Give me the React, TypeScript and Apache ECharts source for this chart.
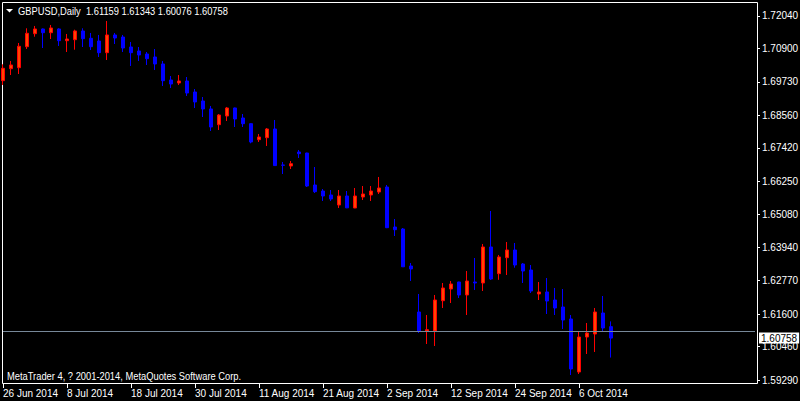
import React, { useEffect, useRef } from 'react';
import * as echarts from 'echarts';

const dates = [
  '26 Jun 2014', '27 Jun 2014', '30 Jun 2014',
  '1 Jul 2014', '2 Jul 2014', '3 Jul 2014', '4 Jul 2014', '7 Jul 2014', '8 Jul 2014', '9 Jul 2014', '10 Jul 2014', '11 Jul 2014',
  '14 Jul 2014', '15 Jul 2014', '16 Jul 2014', '17 Jul 2014', '18 Jul 2014', '21 Jul 2014', '22 Jul 2014', '23 Jul 2014', '24 Jul 2014', '25 Jul 2014',
  '28 Jul 2014', '29 Jul 2014', '30 Jul 2014', '31 Jul 2014',
  '1 Aug 2014', '4 Aug 2014', '5 Aug 2014', '6 Aug 2014', '7 Aug 2014', '8 Aug 2014', '11 Aug 2014', '12 Aug 2014', '13 Aug 2014', '14 Aug 2014', '15 Aug 2014',
  '18 Aug 2014', '19 Aug 2014', '20 Aug 2014', '21 Aug 2014', '22 Aug 2014', '25 Aug 2014', '26 Aug 2014', '27 Aug 2014', '28 Aug 2014', '29 Aug 2014',
  '1 Sep 2014', '2 Sep 2014', '3 Sep 2014', '4 Sep 2014', '5 Sep 2014', '8 Sep 2014', '9 Sep 2014', '10 Sep 2014', '11 Sep 2014', '12 Sep 2014',
  '15 Sep 2014', '16 Sep 2014', '17 Sep 2014', '18 Sep 2014', '19 Sep 2014', '22 Sep 2014', '23 Sep 2014', '24 Sep 2014', '25 Sep 2014', '26 Sep 2014',
  '29 Sep 2014', '30 Sep 2014',
  '1 Oct 2014', '2 Oct 2014', '3 Oct 2014', '6 Oct 2014', '7 Oct 2014', '8 Oct 2014', '9 Oct 2014', '10 Oct 2014',
];

const opens = [
  1.69774, 1.70194, 1.70229, 1.70965, 1.71420, 1.71585, 1.71455, 1.71585, 1.71175, 1.71210,
  1.71515, 1.71259, 1.71164, 1.70755, 1.71375, 1.71304, 1.70954, 1.70814, 1.70709, 1.70604,
  1.70359, 1.69798, 1.69693, 1.69763, 1.69378, 1.69063, 1.68783, 1.68233, 1.68537, 1.68818,
  1.68467, 1.68268, 1.67707, 1.67777, 1.68082, 1.66821, 1.66786, 1.67276, 1.67241, 1.66120,
  1.65910, 1.65770, 1.65420, 1.65735, 1.65315, 1.65700, 1.65770, 1.65875, 1.66050, 1.64649,
  1.64579, 1.63283, 1.61672, 1.61007, 1.61007, 1.62068, 1.62478, 1.62723, 1.62268, 1.62723,
  1.62688, 1.63949, 1.63014, 1.63574, 1.63844, 1.63353, 1.63143, 1.62303, 1.62373, 1.62092,
  1.61847, 1.61427, 1.59570, 1.60796, 1.60901, 1.61637, 1.61159,
];
const highs = [
  1.70348, 1.70464, 1.71094, 1.71609, 1.71690, 1.71602, 1.71725, 1.71609, 1.71410, 1.71560,
  1.71609, 1.71445, 1.71375, 1.71865, 1.71445, 1.71375, 1.71129, 1.70954, 1.70779, 1.70884,
  1.70464, 1.69938, 1.69973, 1.69903, 1.69483, 1.69203, 1.68888, 1.68607, 1.68853, 1.68830,
  1.68607, 1.68280, 1.67907, 1.68117, 1.68397, 1.66926, 1.66961, 1.67346, 1.67250, 1.66751,
  1.65980, 1.65945, 1.65945, 1.65910, 1.66015, 1.66085, 1.66085, 1.66401, 1.66120, 1.64930,
  1.64614, 1.63388, 1.62303, 1.61567, 1.62268, 1.62688, 1.62758, 1.62730, 1.63108, 1.63563,
  1.64054, 1.65210, 1.63669, 1.64124, 1.64089, 1.63388, 1.63318, 1.62723, 1.62863, 1.62513,
  1.62478, 1.61567, 1.60971, 1.61287, 1.61812, 1.62232, 1.61343,
];
const lows = [
  1.69623, 1.69973, 1.70008, 1.70884, 1.71315, 1.70919, 1.71234, 1.70989, 1.70779, 1.70860,
  1.70954, 1.70849, 1.70604, 1.70499, 1.71059, 1.70779, 1.70289, 1.70464, 1.70324, 1.70149,
  1.69588, 1.69518, 1.69623, 1.69238, 1.68818, 1.68502, 1.68012, 1.68047, 1.68362, 1.68152,
  1.68152, 1.67581, 1.67627, 1.67487, 1.66790, 1.66506, 1.66681, 1.67066, 1.66050, 1.65840,
  1.65560, 1.65560, 1.65315, 1.65310, 1.65310, 1.65595, 1.65560, 1.65805, 1.64610, 1.64334,
  1.63248, 1.62758, 1.60936, 1.60551, 1.60481, 1.61812, 1.61987, 1.62162, 1.61567, 1.62443,
  1.62408, 1.62793, 1.62800, 1.62968, 1.63224, 1.62688, 1.62338, 1.62092, 1.61602, 1.61567,
  1.61077, 1.59465, 1.59500, 1.60201, 1.60271, 1.61007, 1.60076,
];
const closes = [
  1.70208, 1.70324, 1.70979, 1.71434, 1.71585, 1.71455, 1.71620, 1.71175, 1.71234, 1.71515,
  1.71245, 1.70965, 1.70755, 1.71375, 1.71269, 1.70919, 1.70755, 1.70674, 1.70544, 1.70359,
  1.69774, 1.69658, 1.69763, 1.69343, 1.69028, 1.68783, 1.68152, 1.68572, 1.68818, 1.68432,
  1.68268, 1.67627, 1.67802, 1.68082, 1.66800, 1.66811, 1.66867, 1.67217, 1.66085, 1.65886,
  1.65735, 1.65630, 1.65735, 1.65320, 1.65735, 1.65805, 1.65910, 1.66015, 1.64625, 1.64555,
  1.63255, 1.63178, 1.61007, 1.61052, 1.62092, 1.62513, 1.62653, 1.62268, 1.62758, 1.62688,
  1.63949, 1.62828, 1.63599, 1.63844, 1.63318, 1.63108, 1.62408, 1.62373, 1.62057, 1.61812,
  1.61392, 1.59676, 1.60796, 1.60936, 1.61672, 1.61112, 1.60758,
];

const priceTicks = [
  1.72040, 1.70900, 1.69730, 1.68560, 1.67420, 1.66250,
  1.65080, 1.63940, 1.62770, 1.61600, 1.60460, 1.59290,
];

const symbolTitle = 'GBPUSD,Daily';
const copyrightText = 'MetaTrader 4, ? 2001-2014, MetaQuotes Software Corp.';
const futureSlots = 18;
const labelEvery = 8;
const priceMin = 1.59185;
const priceMax = 1.7253;

const FONT = "'Liberation Sans', Arial, sans-serif";

export default function App() {
  const ref = useRef<HTMLDivElement>(null);

  useEffect(() => {
    if (!ref.current) return;
    const chart = echarts.init(ref.current, null, { renderer: 'svg' });

    const cats = dates.concat(Array.from({ length: futureSlots }, (_, i) => `__f${i}`));
    const candles = dates.map((_, i) => [opens[i], closes[i], lows[i], highs[i]]);
    const last = dates.length - 1;
    const lastClose = closes[last];
    const header = `${symbolTitle}  ${opens[last].toFixed(5)} ${highs[last].toFixed(5)} ${lows[last].toFixed(5)} ${closes[last].toFixed(5)}`;
    const showIdx = (index: number) => index % labelEvery === 0 && index < dates.length;

    chart.setOption({
      animation: false,
      backgroundColor: '#000000',
      grid: { left: 3, top: 2, width: 752, height: 381, containLabel: false, outerBoundsMode: 'none' },
      xAxis: {
        type: 'category',
        data: cats,
        boundaryGap: false,
        axisLine: { show: false },
        axisTick: { show: true, interval: showIdx, length: 5, lineStyle: { color: '#ffffff', width: 1 } },
        axisLabel: {
          interval: showIdx,
          color: '#ffffff',
          fontSize: 10,
          fontFamily: FONT,
          align: 'left',
          margin: 5,
          padding: [0, 0, 0, 0],
          formatter: (v: string) => (v.startsWith('__f') ? '' : v),
        },
        splitLine: { show: false },
      },
      yAxis: [
        {
          type: 'value',
          position: 'right',
          min: priceMin,
          max: priceMax,
          offset: 2,
          scale: true,
          axisLine: { show: false },
          axisTick: { show: true, length: 3, customValues: priceTicks, lineStyle: { color: '#ffffff' } },
          axisLabel: {
            customValues: priceTicks,
            color: '#ffffff',
            fontSize: 10,
            fontFamily: FONT,
            margin: 5,
            formatter: (v: number) => v.toFixed(5),
          },
          splitLine: { show: false },
        },
        {
          type: 'value',
          position: 'right',
          min: priceMin,
          max: priceMax,
          offset: 2,
          scale: true,
          axisLine: { show: false },
          axisTick: { show: false },
          axisLabel: {
            customValues: [lastClose],
            color: '#000000',
            backgroundColor: '#ffffff',
            padding: [1, 2, 0, 2],
            fontSize: 10,
            fontFamily: FONT,
            margin: 2,
            formatter: (v: number) => v.toFixed(5),
          },
          splitLine: { show: false },
        },
      ],
      series: [
        {
          type: 'candlestick',
          yAxisIndex: 0,
          data: candles,
          barWidth: 4,
          itemStyle: {
            color: '#FF4500',
            color0: '#0000FF',
            borderColor: '#FF0000',
            borderColor0: '#0000FF',
            borderWidth: 1,
          },
          markLine: {
            silent: true,
            symbol: ['none', 'none'],
            label: { show: false },
            lineStyle: { color: '#778899', width: 1, type: 'solid' },
            data: [{ yAxis: lastClose }],
          },
        },
      ],
      graphic: [
        {
          type: 'rect',
          shape: { x: 2.5, y: 2.5, width: 755, height: 381 },
          style: { fill: 'none', stroke: '#ffffff', lineWidth: 1 },
          silent: true,
        },
        {
          type: 'polygon',
          shape: { points: [[6, 9], [13, 9], [9.5, 12.5]] },
          style: { fill: '#ffffff' },
          silent: true,
        },
        {
          type: 'text',
          x: 18,
          y: 11,
          scaleX: 0.85,
          style: {
            text: header,
            fill: '#ffffff',
            fontSize: 11,
            fontFamily: FONT,
            verticalAlign: 'middle',
          },
          silent: true,
        },
        {
          type: 'text',
          x: 7,
          y: 376,
          scaleX: 0.85,
          style: {
            text: copyrightText,
            fill: '#ffffff',
            fontSize: 11,
            fontFamily: FONT,
            verticalAlign: 'middle',
          },
          silent: true,
        },
      ],
    });

    return () => chart.dispose();
  }, []);

  return <div ref={ref} style={{ position: 'fixed', left: 0, top: 0, width: 800, height: 401 }} />;
}
